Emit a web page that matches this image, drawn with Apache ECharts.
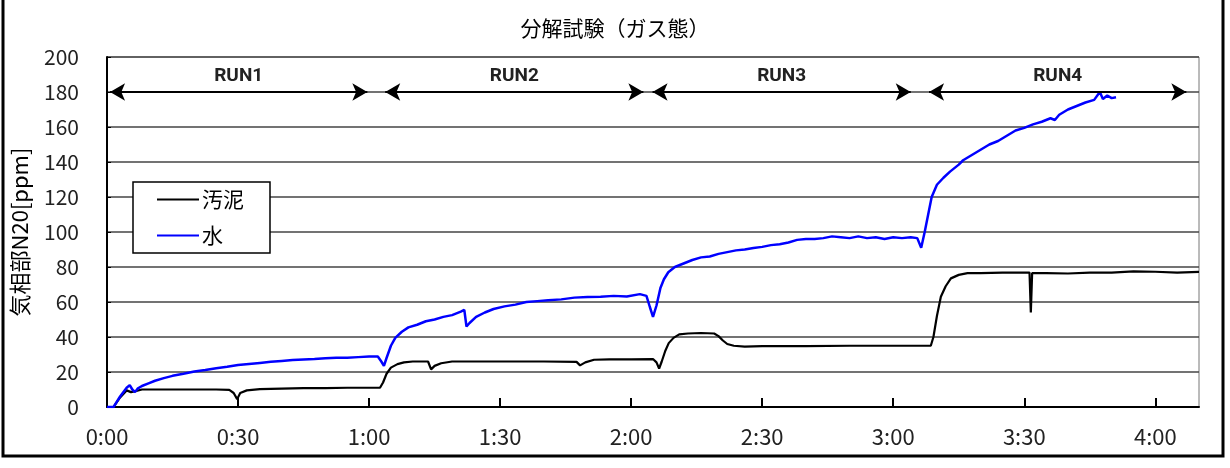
<!DOCTYPE html>
<html>
<head>
<meta charset="utf-8">
<script src="https://cdn.jsdelivr.net/npm/echarts@6/dist/echarts.min.js"></script>
<style>
  html, body { margin: 0; padding: 0; background: #fff; }
  #graph { width: 1230px; height: 468px; }
</style>
</head>
<body>
<div id="graph"></div>
<script>
// time in minutes from start, values in ppm
const sludgeT = [0, 1.5, 3, 4.5, 5.5, 6.5, 8, 10, 15, 20, 25, 28, 29, 29.8, 30.5, 32, 35, 40, 45, 50, 55, 60, 62.5,
  63.2, 64, 65, 66.5, 68, 70, 73.5, 74.2, 75, 76.5, 79, 82, 90, 100, 107.5, 108.3, 109.5, 111.5, 115, 120, 125,
  125.8, 126.4, 127, 127.8, 128.6, 129.7, 131, 133, 136, 139, 140, 141, 142, 143.5, 146, 150, 160, 170, 180, 188.6,
  189.2, 190, 190.9, 192, 193.2, 195, 197, 200, 205, 211.2, 211.5, 211.8, 215, 220, 225, 230, 235, 240, 245, 250];
const sludgeV = [0, 0, 5.5, 9.5, 8.5, 9, 10, 10, 10, 10, 10, 9.8, 8, 4.5, 8, 9.5, 10.2, 10.5, 10.8, 10.8, 11, 11, 11,
  14, 19, 22.5, 24.5, 25.5, 26, 26, 21.5, 23.5, 25, 26, 26, 26, 26, 25.8, 23.8, 25.5, 27, 27.2, 27.2, 27.4,
  25.5, 22, 26, 32, 36.5, 39.5, 41.5, 42, 42.3, 42, 40.5, 38, 36, 35, 34.5, 34.8, 34.8, 35, 35, 35,
  40, 52, 63, 69, 73.5, 75.5, 76.5, 76.5, 76.8, 76.8, 54, 76.5, 76.5, 76.3, 76.8, 76.8, 77.5, 77.3, 76.8, 77.2];

const waterT = [0, 1.5, 3, 4.5, 5.2, 5.8, 6.4, 7, 8, 9.5, 11, 13, 15, 17.5, 20, 22.5, 25, 27.5, 30, 32.5, 35, 37.5,
  40, 42.5, 45, 47.5, 50, 52.5, 55, 57.5, 60, 62, 62.8, 63.4, 64, 65, 66, 67.5, 69, 71, 73, 75, 77, 79, 81, 81.8,
  82.3, 83, 84.5, 86.5, 88.5, 91, 93.5, 96, 98.5, 101, 104, 107, 110, 113, 116, 119, 122, 123.5, 124.3, 125,
  125.8, 126.7, 127.5, 128.5, 130, 132, 134, 136, 138, 140, 142, 144, 146, 148, 150, 152, 154, 156, 158, 160,
  162, 164, 166, 168, 170, 172, 174, 176, 178, 180, 182, 184, 185.5, 186.4, 187.2, 188, 188.8, 190, 191.5, 193,
  195, 196, 198, 200, 202, 204, 206, 208, 210, 212, 214, 216, 217, 218, 220, 222, 224, 226, 227.3, 228, 229, 230, 231];
const waterV = [0, 0, 6, 11, 12.5, 10, 8.5, 10.5, 12, 13.5, 15, 16.5, 17.8, 19, 20.3, 21.2, 22.2, 23, 24, 24.6, 25.2, 25.8,
  26.3, 26.8, 27.2, 27.4, 27.8, 28.2, 28.2, 28.5, 28.8, 28.8, 26, 23.5, 28, 35, 39.5, 43, 45.5, 47, 49, 50, 51.5, 52.5, 54.5, 55.5,
  46, 48, 51.5, 54, 56, 57.5, 58.5, 60, 60.5, 61, 61.5, 62.5, 62.8, 63, 63.5, 63.2, 64.5, 63.5, 57, 51.5,
  58, 68, 73, 77, 80, 82, 84, 85.5, 86, 87.5, 88.5, 89.5, 90, 90.8, 91.5, 92.5, 93, 94, 95.5, 96,
  96, 96.5, 97.5, 97, 96.5, 97.5, 96.5, 97, 96, 97, 96.5, 97, 96.5, 91, 100, 110, 120, 127, 131, 134.5,
  138.5, 141, 144, 147, 150, 152, 155, 158, 159.5, 161.5, 163, 165, 164, 167, 170, 172, 174, 175.5, 180, 176, 178, 176.5, 177];

const runNames = ['RUN1', 'RUN2', 'RUN3', 'RUN4'];
const runStart = [0.7, 63.7, 124.9, 188.2];
const runEnd = [59.6, 122.8, 184.0, 247.1];
const runLevel = 180;

const seriesNames = ['汚泥', '水'];

function zip(t, v) {
  return t.map((x, i) => [x, v[i]]);
}

function fmtTime(m) {
  if (m % 30 !== 0) return '';
  let h = Math.floor(m / 60);
  let mm = m % 60;
  return h + ':' + (mm < 10 ? '0' + mm : mm);
}

let runLines = runNames.map((name, i) => [
  { coord: [runStart[i], runLevel], name: name },
  { coord: [runEnd[i], runLevel] }
]);

const jp = '"Noto Sans CJK JP", sans-serif';

let myChart = echarts.init(document.getElementById('graph'));
let option = {
  animation: false,
  backgroundColor: '#fff',
  title: {
    text: '分解試験（ガス態）',
    left: 'center',
    top: 13,
    textStyle: { fontFamily: jp, fontSize: 21, fontWeight: 'normal', color: '#000' }
  },
  legend: {
    orient: 'vertical',
    left: 133,
    top: 182,
    backgroundColor: '#fff',
    borderColor: '#000',
    borderWidth: 1.5,
    padding: [7, 26, 7, 24],
    icon: 'rect',
    itemWidth: 42,
    itemHeight: 2,
    itemGap: 15,
    data: seriesNames,
    textStyle: { fontFamily: jp, fontSize: 21, color: '#000', padding: [0, 0, 0, -2] }
  },
  graphic: [{
    type: 'rect',
    shape: { x: 3, y: -5, width: 1220, height: 461 },
    style: { fill: 'none', stroke: '#000', lineWidth: 3 },
    silent: true
  }],
  grid: {
    left: 107, right: 31, top: 57, bottom: 61,
    show: true, borderColor: '#777', borderWidth: 1
  },
  xAxis: {
    type: 'value',
    min: 0, max: 250, interval: 30,
    axisLine: { lineStyle: { color: '#000', width: 2 } },
    axisTick: { show: true, inside: true, length: 9, lineStyle: { color: '#000', width: 2 } },
    axisLabel: {
      formatter: fmtTime, showMaxLabel: false, margin: 19,
      fontFamily: jp, fontSize: 22, color: '#222'
    },
    splitLine: { show: false }
  },
  yAxis: {
    type: 'value',
    min: 0, max: 200, interval: 20,
    name: '気相部N20[ppm]',
    nameLocation: 'middle',
    nameRotate: 90,
    nameGap: 76,
    nameTextStyle: { fontFamily: jp, fontSize: 22, color: '#000' },
    axisLine: { show: true, lineStyle: { color: '#000', width: 2 } },
    axisTick: { show: true, inside: true, length: 4, lineStyle: { color: '#000' } },
    axisLabel: { margin: 28, fontFamily: jp, fontSize: 21, color: '#222' },
    splitLine: { show: true, lineStyle: { color: '#444', width: 1.5 } }
  },
  series: [
    {
      name: seriesNames[0],
      type: 'line',
      data: zip(sludgeT, sludgeV),
      symbol: 'none',
      color: '#000',
      lineStyle: { color: '#000', width: 2.2 },
      z: 3,
      markLine: {
        silent: true,
        symbol: ['arrow', 'arrow'],
        symbolSize: [13, 15],
        lineStyle: { color: '#000', width: 2, type: 'solid' },
        label: {
          show: true,
          position: 'middle',
          distance: 6,
          formatter: p => p.name,
          fontFamily: 'Roboto, sans-serif',
          fontWeight: 'bold',
          fontSize: 19,
          color: '#222'
        },
        data: runLines
      }
    },
    {
      name: seriesNames[1],
      type: 'line',
      data: zip(waterT, waterV),
      symbol: 'none',
      color: '#0000ff',
      lineStyle: { color: '#0000ff', width: 2.5 },
      z: 4
    }
  ]
};
myChart.setOption(option);
</script>
</body>
</html>
